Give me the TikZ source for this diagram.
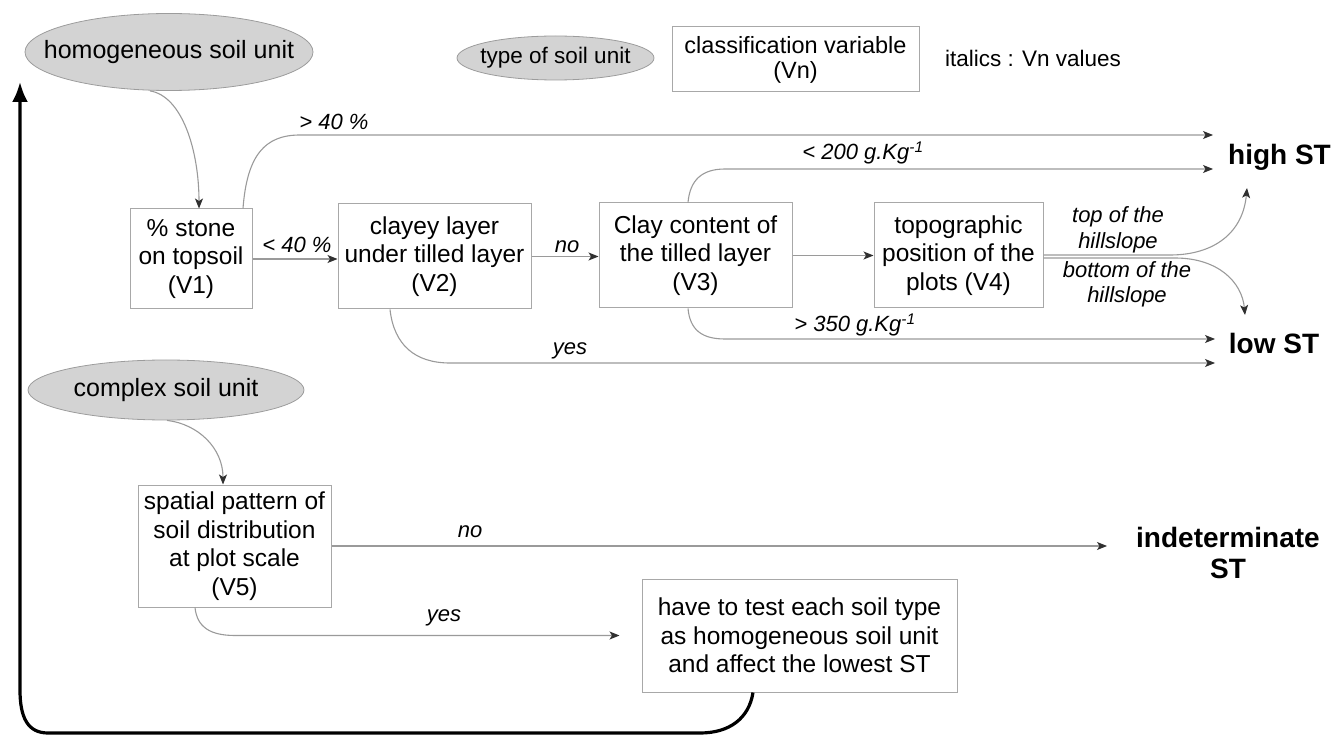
\documentclass[tikz,border=0pt]{standalone}
\usepackage{fontspec}
\setmainfont{Liberation Sans}
\usetikzlibrary{arrows.meta,shapes.geometric}
\definecolor{boxline}{HTML}{A8A8A8}
\definecolor{conline}{HTML}{9A9A9A}
\definecolor{ellfill}{HTML}{D3D3D3}
\definecolor{ellline}{HTML}{9C9C9C}
\definecolor{tipcol}{HTML}{303030}
\begin{document}
\begin{tikzpicture}[x=1pt,y=-1pt,
  box/.style={draw=boxline, line width=1pt, align=center, inner sep=0pt, font=\fontsize{24.5}{28.5}\selectfont},
  ell/.style={ellipse, draw=ellline, line width=0.8pt, fill=ellfill, inner sep=0pt, font=\fontsize{25}{28}\selectfont},
  lab/.style={font=\fontsize{22}{25}\selectfont\itshape, inner sep=0pt, align=center},
  res/.style={font=\fontsize{28}{31}\selectfont\bfseries, align=center, inner sep=0pt},
  con/.style={draw=conline, line width=1.1pt, -{Stealth[length=10pt,width=8pt,inset=2.5pt,fill=tipcol,color=tipcol]}},
  loopline/.style={draw=black, line width=3.2pt, -{Latex[length=20pt,width=16pt]}}
]
\useasboundingbox (0,0) rectangle (1331,735);

% legend and start ellipses
\node[ell, minimum width=288pt, minimum height=77pt] (hom) at (169,52) {\makebox[0pt]{homogeneous soil unit}};
\node[ell, minimum width=197pt, minimum height=44pt, font=\fontsize{22.5}{25}\selectfont] (typ) at (555.5,58) {\makebox[0pt]{type of soil unit}};
\node[box, minimum width=247pt, minimum height=65pt, font=\fontsize{23.5}{25}\selectfont] (cls) at (795.5,59.5) {classification variable\\(Vn)};
\node[font=\fontsize{22.5}{25}\selectfont, inner sep=0pt] (ital) at (1033,58) {italics : Vn values};
\node[ell, minimum width=276pt, minimum height=60pt] (cpx) at (166,390) {\makebox[0pt]{complex soil unit}};

% variable boxes
\node[box, minimum width=122pt, minimum height=100pt] (v1) at (191,259) {\% stone\\on topsoil\\(V1)};
\node[box, minimum width=193pt, minimum height=105pt] (v2) at (434.5,256.5) {clayey layer\\under tilled layer\\(V2)};
\node[box, minimum width=193pt, minimum height=105pt] (v3) at (695.5,255.5) {Clay content of\\the tilled layer\\(V3)};
\node[box, minimum width=169pt, minimum height=105pt] (v4) at (958.5,255.5) {topographic\\position of the\\plots (V4)};
\node[box, minimum width=193pt, minimum height=122pt] (v5) at (234.5,546) {spatial pattern of\\soil distribution\\at plot scale\\(V5)};
\node[box, minimum width=315pt, minimum height=113pt] (test) at (799.5,635.5) {have to test each soil type\\as homogeneous soil unit\\and affect the lowest ST};

% results
\node[res] (high) at (1279.5,157) {high ST};
\node[res] (low) at (1274,343) {low ST};
\node[res, font=\fontsize{28}{31}\selectfont\bfseries] (ind) at (1228,552.5) {indeterminate\\ST};

% arrow ends
\coordinate (hi1) at (1213,135);
\coordinate (hi2) at (1213,169);
\coordinate (hi3) at (1247,188);
\coordinate (lo1) at (1215,339);
\coordinate (lo2) at (1215,363);
\coordinate (lo3) at (1245,315);
\coordinate (indT) at (1107,546);
\coordinate (loopT) at (20,82);

% connectors
\draw[con] ([xshift=-19pt]hom.south) .. controls (182,96) and (199,150) .. ([xshift=8pt]v1.north);
\draw[con] ([xshift=52pt]v1.north) .. controls (247,155) and (265,135) .. (300,135) -- (hi1);
\draw[con] (v1.east) -- (v1.east -| v2.west);
\draw[con] (v2.east) -- (v2.east -| v3.west);
\draw[con] (v3.east) -- (v3.east -| v4.west);
\draw[con] ([xshift=-44.5pt]v2.south) .. controls (394,345) and (415,363) .. (450,363) -- (lo2);
\draw[con] ([xshift=-7.5pt]v3.north) .. controls (690,180) and (702,169) .. (725,169) -- (hi2);
\draw[con] ([xshift=-7.5pt]v3.south) .. controls (690,330) and (702,339) .. (725,339) -- (lo1);
\draw[con] ([yshift=0.5pt]v4.east) -- (1170,255) .. controls (1215,255) and (1243,232) .. (hi3);
\draw[con] ([yshift=-2.5pt]v4.east) -- (1175,258) .. controls (1218,258) and (1242,282) .. (lo3);
\draw[con] ([xshift=1pt]cpx.south) .. controls (198,424) and (223,448) .. ([xshift=-11.5pt]v5.north);
\draw[con] (v5.east) -- (indT);
\draw[con, shorten >=22pt] ([xshift=-39.5pt]v5.south) .. controls (197,627) and (210,635.5) .. (235,635.5) -- (test.west);
\draw[loopline] ([xshift=-46.5pt]test.south) .. controls (749,718) and (730,733) .. (700,733) -- (48,733) .. controls (28,733) and (20,718) .. (20,690) -- (loopT);

% labels
\node[lab] (l40a) at (334,122) {> 40 \%};
\node[lab] (l40b) at (297,245) {< 40 \%};
\node[lab] (lno1) at (567,247) {no};
\node[lab] (lyes1) at (570,351) {yes};
\node[lab] (l200) at (863,153) {< 200 g.Kg\textsuperscript{-1}};
\node[lab] (l350) at (855,325) {> 350 g.Kg\textsuperscript{-1}};
\node[lab, font=\fontsize{22}{26}\selectfont\itshape] (ltop) at (1118,230) {top of the\\hillslope};
\node[lab, font=\fontsize{22}{25}\selectfont\itshape] (lbot) at (1127,284.5) {bottom of the\\hillslope};
\node[lab] (lno2) at (470,532) {no};
\node[lab] (lyes2) at (444,618) {yes};
\end{tikzpicture}
\end{document}
